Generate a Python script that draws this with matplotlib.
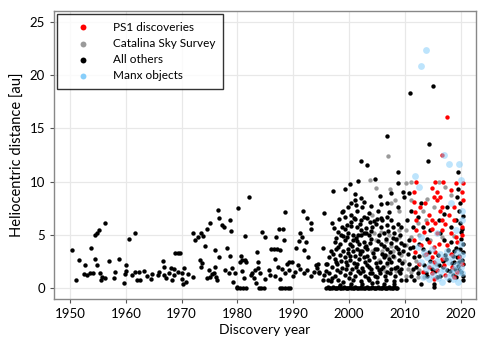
import matplotlib
matplotlib.use("Agg")
import matplotlib.pyplot as plt
import numpy as np

plt.rcParams['font.family'] = ['Lato', 'DejaVu Sans']

# all other discoveries (year, heliocentric distance)
others = np.array([
    # 1950s
    (1950.3,3.6),(1951.1,0.8),(1951.6,2.7),(1952.4,1.35),(1952.7,2.2),(1953.1,1.25),(1953.5,1.4),
    (1953.7,3.8),(1954.1,1.4),(1954.5,2.8),(1954.8,2.2),(1954.5,5.0),(1954.9,5.15),(1955.2,5.5),
    (1955.4,1.4),(1955.6,0.8),(1955.7,1.1),(1956.3,6.15),(1956.3,0.95),(1956.9,2.6),(1957.8,0.95),
    (1958.1,1.55),(1958.7,2.8),(1959.6,0.55),(1959.9,1.35),
    # 1960s
    (1960.1,2.2),(1960.1,1.65),(1960.5,4.6),(1961.0,1.25),(1961.7,5.2),(1961.7,1.55),(1961.9,0.8),
    (1962.3,1.55),(1962.5,0.8),(1963.2,1.65),(1963.8,1.15),(1964.5,0.85),(1964.7,1.35),(1965.7,1.25),
    (1965.9,1.55),(1966.6,2.6),(1966.8,2.0),(1966.8,1.25),(1967.1,0.95),(1967.7,1.4),(1968.1,1.95),
    (1968.3,0.8),(1968.6,1.8),(1968.6,1.25),(1968.8,3.35),(1969.3,3.35),(1969.7,3.35),(1969.4,1.55),
    # 1970s
    (1970.0,0.85),(1970.1,1.4),(1970.4,1.95),(1970.3,0.45),(1970.8,0.6),(1971.2,1.35),(1972.1,5.15),
    (1972.4,4.5),(1972.1,1.05),(1973.0,4.85),(1973.3,2.65),(1973.4,2.0),(1973.5,5.15),(1973.6,2.4),
    (1973.9,4.9),(1974.2,3.95),(1974.5,5.6),(1974.5,0.95),(1974.9,1.7),(1975.1,6.1),(1975.1,1.1),
    (1975.4,1.35),(1975.8,1.45),(1975.9,3.6),(1976.0,2.0),(1976.1,1.1),(1976.3,0.8),(1976.5,7.35),
    (1976.6,6.6),(1976.6,2.95),(1977.2,5.95),(1977.5,5.8),(1977.7,1.7),(1978.1,3.75),(1978.4,1.45),
    (1978.6,6.4),(1978.7,3.0),(1978.9,5.4),(1979.0,1.9),(1979.2,0.6),(1979.6,1.45),(1979.9,0.15),
    # 1980s
    (1980.05,7.5),(1980.5,2.5),(1980.7,3.0),(1980.8,2.65),(1980.9,1.6),(1981.2,1.0),(1981.3,4.9),
    (1981.3,2.7),(1981.5,2.5),(1982.0,8.6),(1982.5,1.3),(1982.6,1.4),(1983.0,1.0),(1983.2,1.7),
    (1983.3,0.5),(1983.5,3.4),(1983.7,2.5),(1983.6,1.9),(1984.1,1.4),(1984.4,5.25),(1984.9,4.85),
    (1985.0,0.9),(1985.6,1.7),(1985.9,1.3),(1986.1,3.65),(1986.5,3.65),(1986.7,2.8),(1986.8,1.2),
    (1986.9,4.85),(1987.1,3.65),(1987.3,2.0),(1987.4,5.6),(1987.7,3.6),(1987.7,0.9),(1988.0,1.85),
    (1988.1,5.6),(1988.3,4.5),(1988.45,7.2),(1988.5,1.4),(1988.9,2.3),(1989.2,1.7),(1989.3,2.5),
    (1989.7,2.5),(1989.9,1.2),
    (1980.0,0.05),(1980.5,0.05),(1981.0,0.05),(1981.5,0.05),(1983.9,0.05),(1984.3,0.05),(1984.8,0.05),
    (1987.6,0.05),(1988.0,0.05),(1988.5,0.05),(1989.0,0.05),(1989.5,0.05),
    # 1990-1996
    (1990.4,1.55),(1990.5,3.75),(1990.8,2.15),(1991.0,4.4),(1991.3,5.2),(1991.3,1.85),(1991.5,4.85),
    (1991.7,7.3),(1991.9,1.4),(1992.0,3.6),(1992.2,4.35),(1992.5,6.6),(1992.5,1.7),(1992.6,2.9),
    (1993.1,6.1),(1993.1,1.2),(1993.2,5.6),(1993.7,1.55),(1994.0,2.2),(1994.3,1.9),(1994.4,2.3),
    (1994.6,1.4),(1994.7,1.55),(1995.3,0.8),(1995.5,7.1),(1995.4,3.8),(1995.6,1.3),(1995.8,1.6),
    (1995.9,2.3),(1996.1,2.3),(1996.2,0.8),
    # 1996-2010 cloud
    (2006.8,14.3),(2002.1,11.9),(2003.2,11.6),(2008.8,10.9),(2001.7,10.1),(2004.6,10.3),(2000.2,9.8),
    (2008.8,9.9),(1997.2,9.15),(1999.3,9.3),(2009.6,9.0),(2009.9,8.6),(2001.1,8.85),(2005.5,8.65),
    (2007.5,8.9),(2001.0,8.3),(2002.1,8.5),(2002.6,8.1),(2000.4,8.0),(1999.8,7.6),(1999.0,7.3),
    (1998.7,7.2),(2004.0,7.7),(2005.8,7.9),(2006.8,8.0),(2008.7,7.6),(2001.5,7.3),(2002.4,7.6),
    (1999.2,6.7),(2000.4,6.9),(2001.1,6.5),(2002.1,6.4),(2002.7,6.7),(2003.3,6.6),(2005.1,6.55),
    (2006.0,6.4),(2006.8,6.65),(2007.5,6.4),(1996.9,6.1),(1998.7,5.8),(1999.2,5.6),(2000.4,5.85),
    (2001.5,5.8),(2002.1,5.45),(2003.0,5.7),(2004.2,5.8),(2005.7,5.8),(2006.9,5.9),(2007.8,5.75),
    (2009.3,5.75),(1998.0,5.3),(1997.7,4.7),(1998.6,5.0),(1999.8,5.15),(2000.7,5.0),(2001.7,5.0),
    (2002.6,5.15),(2003.6,5.0),(2005.4,5.0),(2006.3,5.15),(2008.1,5.15),(1997.4,4.35),(1998.3,4.2),
    (1999.2,4.5),(2000.1,4.2),(2000.8,4.5),(2001.8,4.2),(2002.7,4.35),(2003.8,4.25),(2005.7,4.2),
    (2007.5,4.25),(2009.4,4.25),(1996.8,3.55),(1997.7,3.7),(1998.9,3.55),(1999.8,3.7),(2000.7,3.5),
    (2001.5,3.7),(2002.4,3.5),(2003.3,3.65),(2005.1,3.7),(2006.9,3.7),(2008.7,3.7),(2009.6,3.55),
    (1996.5,2.95),(1997.4,2.8),(1998.3,3.1),(1999.2,2.9),(2000.1,2.7),(2001.0,3.0),(2001.8,2.8),
    (2002.7,2.95),(2003.6,2.7),(2004.5,2.95),(2006.3,2.95),(2007.2,2.8),(2009.0,2.7),(1996.9,2.0),
    (1997.9,2.25),(1998.7,1.95),(1999.6,2.15),(2000.5,1.85),(2001.4,2.25),(2002.3,1.95),(2003.2,2.15),
    (2004.0,1.85),(2005.0,2.05),(2005.8,1.85),(2007.6,1.85),(2008.6,2.05),(2009.4,1.85),(1996.5,1.45),
    (1997.4,1.2),(1998.3,1.55),(1999.2,1.3),(2000.1,1.45),(2001.0,1.15),(2002.0,1.45),(2002.9,1.2),
    (2003.8,1.45),(2004.6,1.15),(2005.6,1.45),(2006.4,1.2),(2007.4,1.45),(2008.2,1.15),(2009.2,1.4),
    (1996.8,0.7),(1998.0,0.8),(1998.9,0.6),(2000.7,0.75),(2002.1,0.7),(2003.6,0.8),(2005.1,0.6),
    (2006.6,0.75),(2008.1,0.7),(2009.3,0.8),
    (1999.6,4.8),(2000.3,6.2),(2001.3,4.7),(2002.0,3.2),(2003.0,4.0),(2004.3,3.3),(2000.9,2.4),
    (1999.9,3.3),(2002.9,2.5),(2004.8,2.4),(2003.9,5.4),(2001.9,6.0),(1998.5,2.6),(1997.1,3.2),
    (2005.9,3.2),(2006.6,4.6),(2007.9,3.0),(2008.5,4.6),(2004.9,6.0),(2003.5,7.1),(2000.0,1.0),
    (2001.6,1.6),(2003.4,1.0),(2005.3,1.7),(2006.9,2.4),(2008.9,3.3),(1997.8,1.7),(1999.5,2.5),
    (1997.0,1.0),(1997.6,2.5),(1998.1,3.9),(1998.4,0.3),(1999.0,4.9),(1999.4,1.8),(1999.7,5.9),
    (2000.2,3.0),(2000.6,4.0),(2000.9,6.6),(2001.2,2.0),(2001.5,4.4),(2001.9,3.5),(2002.2,5.0),
    (2002.5,1.6),(2002.8,3.9),(2003.1,5.2),(2003.3,3.0),(2003.6,2.0),(2003.9,4.6),(2004.1,1.4),
    (2004.4,6.3),(2004.7,3.7),(2005.0,1.1),(2005.2,4.4),(2005.5,2.5),(2005.8,6.6),(2006.1,2.0),
    (2006.3,4.0),(2006.5,3.1),(2006.8,1.5),(2007.0,5.4),(2007.3,3.4),(2007.6,2.5),(2007.9,4.7),
    (2008.2,1.9),(2008.4,3.9),(2008.7,6.0),(2009.0,1.6),(2009.2,5.0),(2009.5,2.4),(2009.8,4.1),
    (2000.4,0.4),(2002.3,0.4),(2004.2,0.5),(2006.2,0.4),(2008.0,0.4),(1997.3,5.7),(1998.2,6.5),
    (2001.2,7.8),(2003.7,6.2),(2005.2,7.3),(2007.1,7.2),
    # 2010-2020
    (2011.0,18.3),(2015.1,19.0),(2014.3,13.5),(2014.2,11.95),(2019.5,10.9),(2010.8,8.9),(2012.9,8.0),
    (2011.1,7.3),(2010.4,6.4),(2011.4,5.75),(2012.3,6.7),(2013.2,5.75),(2014.6,5.45),(2016.1,6.4),
    (2017.0,7.0),(2017.6,7.65),(2019.4,8.6),(2019.7,7.3),(2019.1,6.4),(2019.9,6.1),(2018.2,5.75),
    (2016.4,5.15),(2010.8,4.5),(2011.4,3.9),(2012.6,4.2),(2014.0,4.65),(2017.0,4.5),(2018.2,4.35),
    (2020.0,4.65),(2010.5,3.25),(2011.7,2.95),(2013.2,3.7),(2014.3,3.4),(2015.9,3.1),(2017.3,3.1),
    (2018.8,3.55),(2019.9,3.7),(2020.5,3.4),(2010.8,2.3),(2012.0,2.0),(2013.5,2.15),(2014.9,1.85),
    (2016.1,2.15),(2017.6,1.7),(2018.8,2.5),(2019.7,2.5),(2020.5,2.3),(2011.1,1.2),(2012.3,1.4),
    (2014.0,1.2),(2015.8,1.05),(2017.9,0.75),(2019.1,1.05),(2020.5,1.2),(2010.2,0.75),(2012.9,0.45),
    (2015.2,0.45),(2015.2,0.15),(2020.5,0.75),(2011.7,0.75),(2019.3,2.9),(2019.8,1.7),(2018.6,1.3),
    (2016.8,2.6),(2020.3,5.6),(2019.6,9.3),
    (2016.3,1.2),(2016.9,2.0),(2017.4,2.8),(2017.8,3.6),(2018.1,1.6),(2018.4,2.4),(2018.7,3.0),
    (2019.0,1.8),(2019.2,3.8),(2019.5,2.1),(2019.8,3.0),(2020.1,1.5),(2020.2,2.7),(2020.4,4.2),
    (2015.5,1.6),(2014.6,2.6),(2013.8,1.4),(2012.5,3.0),(2011.5,1.8),(2010.9,3.8),(2020.0,5.3),
    (2019.9,8.0),(2020.4,6.8),
])

# the long run of near-zero distances around 1996-2008
band_year = [1995.9, 1996.15, 1996.4, 1996.65, 1996.9, 1997.15, 1997.4, 1997.65, 1997.9, 1998.15,
             1998.4, 1998.65, 1998.9, 1999.15, 1999.4, 1999.65, 1999.9, 2000.15, 2000.4, 2000.65,
             2000.9, 2001.15, 2001.4, 2001.65, 2001.9, 2002.15, 2002.4, 2002.65, 2002.9, 2003.15,
             2003.4, 2003.65, 2003.9, 2004.15, 2004.4, 2004.65, 2004.9, 2005.15, 2005.4, 2005.65,
             2005.9, 2006.15, 2006.4, 2006.65, 2006.9, 2007.15, 2007.4, 2007.65, 2007.9, 2008.15,
             2008.4, 2008.6]
band_dist = [0.05, 0.1, 0.05, 0.0, 0.05, 0.1, 0.05, 0.0, 0.05, 0.1,
             0.05, 0.0, 0.05, 0.1, 0.05, 0.0, 0.05, 0.1, 0.05, 0.0,
             0.05, 0.1, 0.05, 0.0, 0.05, 0.1, 0.05, 0.0, 0.05, 0.1,
             0.05, 0.0, 0.05, 0.1, 0.05, 0.0, 0.05, 0.1, 0.05, 0.0,
             0.05, 0.1, 0.05, 0.0, 0.05, 0.1, 0.05, 0.0, 0.05, 0.1,
             0.05, 0.0]

catalina = np.array([
    (2007.0,12.4),(2003.8,10.2),(2004.8,9.4),(2007.3,9.3),(2007.5,8.0),(2008.3,8.3),(2009.0,7.3),
    (2004.2,6.9),(2004.5,5.15),(2007.2,5.0),(2009.0,4.8),(2004.8,4.5),(2006.6,4.45),(2008.4,4.5),
    (2004.2,3.55),(2006.0,3.5),(2007.8,3.5),(2005.4,2.7),(2008.1,2.95),(2006.8,2.15),(2006.2,3.9),
    (2007.6,4.0),(2008.9,5.5),(2005.8,5.3),(2007.0,3.0),(2009.4,3.1),(2006.4,1.6),(2008.4,1.6),
    (2010.2,9.85),(2011.1,10.0),(2016.1,10.0),(2017.3,9.5),(2011.1,8.3),(2013.2,7.3),(2012.3,6.1),
    (2013.75,6.4),(2010.2,5.45),(2011.1,4.8),(2012.6,5.0),(2010.2,4.05),(2012.0,2.6),(2010.5,1.85),
    (2012.6,1.7),(2011.1,1.55),(2009.9,2.6),(2013.5,1.05),(2012.3,1.05),(2010.2,1.2),(2014.6,4.5),
    (2013.5,3.1),(2015.3,7.6),(2018.3,8.8),(2014.0,8.4),(2016.7,4.8),(2018.9,4.9),(2015.6,2.3),
])

ps1 = np.array([
    (2017.5,16.05),(2016.7,12.55),(2012.1,10.0),(2015.4,10.0),(2016.9,10.0),(2019.2,9.85),(2020.5,9.85),
    (2011.7,9.05),(2014.9,9.4),(2015.2,8.6),(2015.7,9.05),(2015.8,8.3),(2016.4,8.6),(2018.2,9.2),
    (2020.3,9.05),(2020.5,8.3),(2011.7,8.1),(2012.7,7.6),(2013.7,8.0),(2016.7,7.6),(2018.8,7.6),
    (2011.9,7.2),(2014.3,6.9),(2016.3,7.3),(2017.9,6.9),(2012.0,6.4),(2013.9,6.1),(2014.9,6.4),
    (2015.5,6.1),(2016.7,6.4),(2017.3,6.0),(2018.8,6.4),(2020.3,5.8),(2012.1,5.45),(2013.5,5.3),
    (2014.9,5.6),(2015.7,5.15),(2016.7,5.45),(2018.2,5.15),(2019.1,4.85),(2020.3,5.0),(2011.7,4.5),
    (2012.9,4.05),(2014.3,4.35),(2015.2,3.9),(2016.1,4.2),(2017.6,4.05),(2019.4,4.35),(2011.9,3.4),
    (2013.75,3.25),(2014.8,2.95),(2015.5,3.4),(2016.7,2.8),(2018.2,3.25),(2019.7,2.95),(2012.6,2.3),
    (2014.3,2.0),(2015.2,2.5),(2015.8,1.7),(2017.0,2.15),(2018.5,2.0),(2020.3,2.25),(2013.2,1.55),
    (2014.9,1.4),(2017.3,1.3),(2019.4,1.55),(2015.2,0.9),(2018.8,1.05),
])

manx = np.array([
    (2013.75,22.3),(2012.9,20.8),(2017.0,12.5),(2018.0,11.7),(2019.8,11.7),(2020.0,10.2),(2011.85,10.5),
    (2012.6,9.5),(2018.2,8.0),(2020.3,7.3),(2012.9,4.8),(2015.8,5.15),(2019.1,5.45),(2020.3,6.4),
    (2020.0,4.2),(2012.3,3.9),(2013.5,3.4),(2014.0,2.95),(2014.9,3.7),(2016.4,3.25),(2017.6,3.55),
    (2018.5,2.95),(2019.4,3.4),(2020.3,3.1),(2012.9,2.5),(2014.6,2.3),(2015.8,2.6),(2017.0,1.85),
    (2017.9,2.5),(2019.1,2.15),(2020.0,2.0),(2013.75,1.85),(2016.4,1.55),(2018.2,1.4),(2019.7,1.55),
    (2015.5,2.0),(2017.6,1.05),(2018.8,1.85),(2020.3,1.4),(2016.7,0.6),(2013.2,1.05),(2014.3,0.9),
    (2016.0,1.0),(2018.6,0.9),(2019.5,0.6),(2017.3,2.9),(2019.9,2.6),(2015.0,1.3),
])

fig = plt.figure(figsize=(4.8, 3.43), dpi=100)
ax = fig.add_axes([0.1125, 0.128, 0.8795, 0.84])

dot = 10
ax.scatter(catalina[:, 0], catalina[:, 1], s=dot, color="#9a9a9a", lw=0, zorder=2, label="Catalina Sky Survey")
ax.scatter(others[:, 0], others[:, 1], s=dot, color="black", lw=0, zorder=3, label="All others")
ax.scatter(band_year, band_dist, s=dot, color="black", lw=0, zorder=3)
ax.scatter(ps1[:, 0], ps1[:, 1], s=dot, color="red", lw=0, zorder=4, label="PS1 discoveries")
ax.scatter(manx[:, 0], manx[:, 1], s=24, color="#87cefa", alpha=0.55, lw=0, zorder=5, label="Manx objects")

ax.set_xlim(1947.1, 2022.8)
ax.set_ylim(-1, 26)
ax.set_xticks([1950, 1960, 1970, 1980, 1990, 2000, 2010, 2020])
ax.set_yticks([0, 5, 10, 15, 20, 25])
ax.grid(True, color="#e8e8e8", lw=0.9)
ax.set_axisbelow(True)
for s in ax.spines.values():
    s.set_color("#888888")
    s.set_linewidth(1)
ax.tick_params(colors="#555555", labelcolor="black", labelsize=9.5, length=3)
ax.set_xlabel("Discovery year", fontsize=10, labelpad=3)
ax.set_ylabel("Heliocentric distance [au]", fontsize=10.5, labelpad=3)

h, l = ax.get_legend_handles_labels()
order = [2, 0, 1, 3]
leg = ax.legend([h[i] for i in order], [l[i] for i in order], loc="upper left",
                bbox_to_anchor=(0.006, 0.988), borderaxespad=0, fontsize=8.5, frameon=True,
                fancybox=False, edgecolor="black", handlelength=3.2, handletextpad=1.0,
                labelspacing=0.45, borderpad=0.6, scatterpoints=1)
leg.get_frame().set_linewidth(1)
for lh in leg.legend_handles:
    lh.set_alpha(1)
    lh.set_sizes([18])

fig.savefig("out.png", dpi=100)
